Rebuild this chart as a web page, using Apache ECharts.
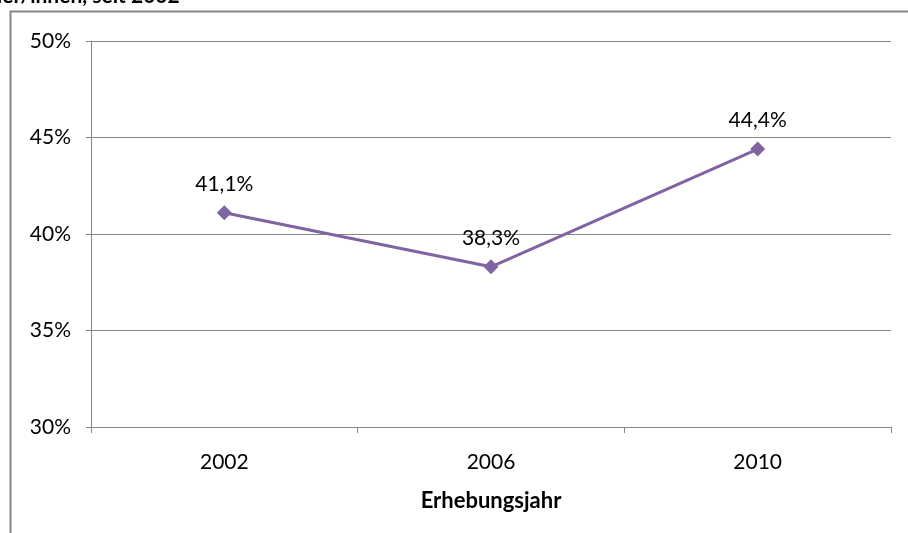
<!DOCTYPE html>
<html>
<head>
<meta charset="utf-8">
<script src="https://cdn.jsdelivr.net/npm/echarts@6/dist/echarts.min.js"></script>
<style>
  html, body { margin: 0; padding: 0; background: #fff; }
  #chart { width: 908px; height: 533px; }
</style>
</head>
<body>
<div id="chart"></div>
<script>
// Erhebungsjahre und Anteile in Prozent
const years = ['2002', '2006', '2010'];
const shares = [41.1, 38.3, 44.4];
const yTicks = [30, 35, 40, 45, 50];

const font = 'Lato, Open Sans, sans-serif';
const chart = echarts.init(document.getElementById('chart'));

chart.setOption({
  animation: false,
  backgroundColor: '#fff',
  textStyle: { fontFamily: font },
  graphic: [
    // abgeschnittener Titel oben
    {
      type: 'text', left: -3, top: -14,
      style: { text: 'ler/innen, seit 2002', font: 'bold 21px ' + font, fill: '#000' }
    },
    // Rahmen des Diagrammbereichs
    {
      type: 'rect', shape: { x: 10.5, y: 11.5, width: 1000, height: 600 },
      style: { fill: 'none', stroke: '#868686', lineWidth: 2 }, silent: true
    }
  ],
  grid: { left: 91, right: 17, top: 41, bottom: 106 },
  xAxis: {
    type: 'category',
    data: years,
    boundaryGap: true,
    name: 'Erhebungsjahr',
    nameLocation: 'middle',
    nameGap: 63,
    nameTextStyle: { fontSize: 22, fontWeight: 'bold', color: '#000', fontFamily: font },
    axisLine: { lineStyle: { color: '#868686', width: 1 } },
    axisTick: { show: true, length: 6, lineStyle: { color: '#868686' } },
    axisLabel: { fontSize: 21, color: '#000', margin: 25 }
  },
  yAxis: {
    type: 'value',
    min: yTicks[0], max: yTicks[yTicks.length - 1], interval: 5,
    axisLine: { show: true, lineStyle: { color: '#868686' } },
    axisTick: { show: true, length: 5, lineStyle: { color: '#868686' } },
    axisLabel: { fontSize: 21, color: '#000', margin: 20, formatter: v => v + '%' },
    splitLine: { lineStyle: { color: '#868686', width: 1 } }
  },
  series: [{
    type: 'line',
    data: shares,
    symbol: 'diamond',
    symbolSize: 15,
    lineStyle: { color: '#8064A2', width: 3 },
    itemStyle: { color: '#8064A2' },
    label: {
      show: true, position: 'top', distance: 11,
      fontSize: 21, color: '#000',
      formatter: p => p.value.toFixed(1).replace('.', ',') + '%'
    }
  }]
});
</script>
</body>
</html>
